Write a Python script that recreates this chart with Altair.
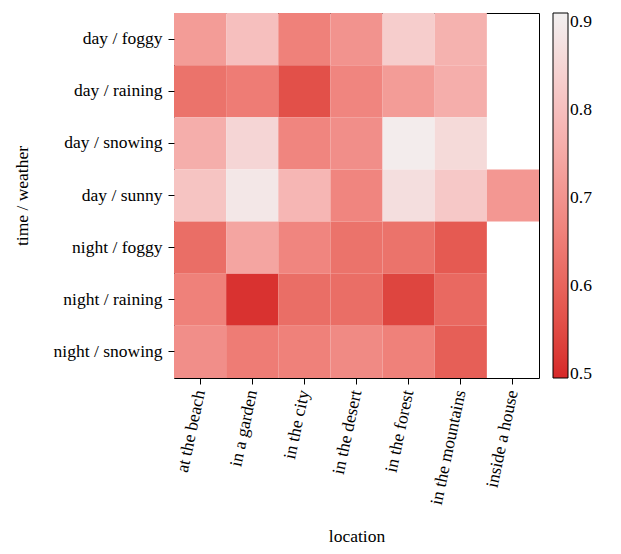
import pandas as pd
import altair as alt

locations = ["at the beach", "in a garden", "in the city", "in the desert",
             "in the forest", "in the mountains", "inside a house"]
conditions = ["day / foggy", "day / raining", "day / snowing", "day / sunny",
              "night / foggy", "night / raining", "night / snowing"]
values = [
    [0.72, 0.80, 0.66, 0.70, 0.83, 0.77, None],
    [0.63, 0.65, 0.56, 0.67, 0.72, 0.76, None],
    [0.76, 0.85, 0.67, 0.69, 0.90, 0.86, None],
    [0.81, 0.89, 0.78, 0.67, 0.87, 0.82, 0.71],
    [0.62, 0.74, 0.67, 0.63, 0.63, 0.58, None],
    [0.66, 0.51, 0.62, 0.62, 0.54, 0.61, None],
    [0.69, 0.65, 0.66, 0.68, 0.66, 0.59, None],
]

rows = []
for cond, row in zip(conditions, values):
    for loc, v in zip(locations, row):
        if v is not None:
            rows.append({"location": loc, "cond": cond, "value": v})
df = pd.DataFrame(rows)

chart = alt.Chart(df).mark_rect().encode(
    x=alt.X("location:N", sort=locations, scale=alt.Scale(domain=locations),
            title="location",
            axis=alt.Axis(labelAngle=-78, titlePadding=22, labelPadding=6)),
    y=alt.Y("cond:N", sort=conditions, scale=alt.Scale(domain=conditions),
            title="time / weather", axis=alt.Axis(labelPadding=6, titlePadding=22)),
    color=alt.Color("value:Q",
                    scale=alt.Scale(domain=[0.495, 0.91], range=["#d62728", "#f2f0f0"]),
                    legend=alt.Legend(title=None, gradientLength=365, gradientThickness=15,
                                      values=[0.5, 0.6, 0.7, 0.8, 0.9], format=".1f",
                                      gradientStrokeColor="black", gradientStrokeWidth=1,
                                      offset=14)),
).properties(width=365, height=365).configure_view(
    stroke="black", strokeWidth=1
).configure_axis(
    domain=False, tickColor="black", labelColor="black", titleColor="black",
    labelFont="Liberation Serif", titleFont="Liberation Serif", tickSize=6,
    labelFontSize=17.5, titleFontSize=17.5, titleFontWeight="normal"
).configure_legend(labelFont="Liberation Serif", labelColor="black", labelFontSize=17.5)

chart.save("out.html", embed_options={"renderer": "svg", "actions": False})
